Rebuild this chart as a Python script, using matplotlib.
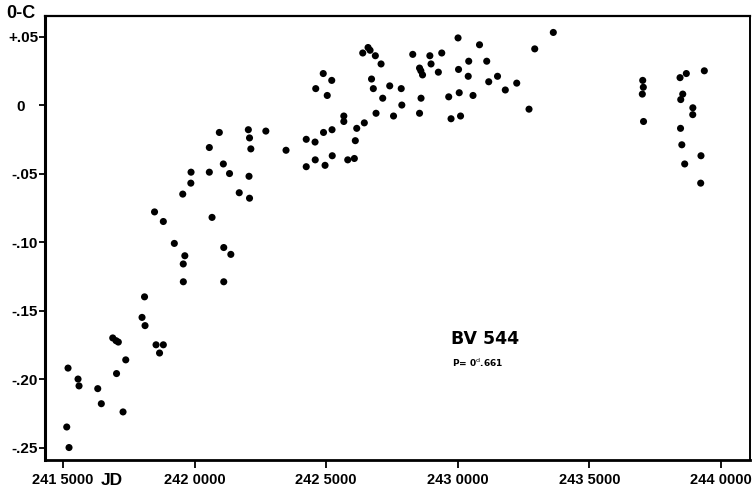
import numpy as np
import matplotlib
matplotlib.use("Agg")
import matplotlib.pyplot as plt
from matplotlib.transforms import ScaledTranslation

# ---- data : JD - 2400000 and O-C (days) ----
jd = np.array([
    15141, 15228, 15190, 15570, 15608, 16319, 16455, 16889, 17014, 17101,
    17033, 17280, 17383, 18002, 18097, 18116, 18534, 18667, 18811, 18477,
    18811, 19229, 19568, 19628, 19571, 19549, 19856, 19864, 20559, 20559,
    20662, 20939, 21091, 21107, 21376, 21107, 21326, 21695, 22086, 22067,
    22041, 22086, 22136, 22706, 23473, 24241, 24576, 24898, 25221, 24241,
    24583, 24956, 25229, 25818, 26069, 24602, 24887, 25210, 25039, 25669,
    25669, 26160, 26106, 26448, 26893, 26388, 26590, 26666, 26867, 27084,
    26722, 26790, 27147, 27413, 27850, 27873, 27558, 28288, 28546, 28596,
    28660, 28938, 28983, 29390, 29261, 28603, 28546, 29655, 29743, 30009,
    30028, 30415, 30396, 30054, 30104, 30578, 30825, 31099, 31175, 31509,
    31805, 32239, 32706, 32923, 33629, 37026, 37049, 37011, 37057, 38444,
    38683, 39367, 38547, 38471, 38931, 38927, 38463, 38512, 39240, 38621,
    39229,
])
oc = np.array([
    -0.235, -0.250, -0.192, -0.200, -0.205, -0.207, -0.218, -0.170, -0.172, -0.173,
    -0.196, -0.224, -0.186, -0.155, -0.140, -0.161, -0.175, -0.181, -0.175, -0.078,
    -0.085, -0.101, -0.116, -0.110, -0.129, -0.065, -0.057, -0.049, -0.031, -0.049,
    -0.082, -0.020, -0.043, -0.104, -0.109, -0.129, -0.050, -0.064, -0.068, -0.052,
    -0.018, -0.024, -0.032, -0.019, -0.033, -0.025, -0.027, -0.020, -0.018, -0.045,
    -0.040, -0.044, -0.037, -0.040, -0.039, 0.012, 0.023, 0.018, 0.007, -0.008,
    -0.012, -0.017, -0.026, -0.013, -0.006, 0.038, 0.042, 0.040, 0.036, 0.030,
    0.019, 0.012, 0.005, 0.014, 0.012, 0.000, -0.008, 0.037, 0.027, 0.025,
    0.022, 0.036, 0.030, 0.038, 0.024, 0.005, -0.006, 0.006, -0.010, 0.049,
    0.026, 0.032, 0.021, 0.009, -0.008, 0.007, 0.044, 0.032, 0.017, 0.021,
    0.011, 0.016, -0.003, 0.041, 0.053, 0.018, 0.013, 0.008, -0.012, 0.020,
    0.023, 0.025, 0.008, 0.004, -0.002, -0.007, -0.017, -0.029, -0.037, -0.043,
    -0.057,
])

xticks = [15000, 20000, 25000, 30000, 35000, 40000]
xtick_labels = ["241 5000", "242 0000", "242 5000", "243 0000", "243 5000", "244 0000"]
yticks = [0.05, 0.0, -0.05, -0.10, -0.15, -0.20, -0.25]
ytick_labels = ["+.05", "0", "-.05", "-.10", "-.15", "-.20", "-.25"]

fig = plt.figure(figsize=(7.53, 4.94), dpi=100)
ax = fig.add_axes([0.0598, 0.0688, 0.9362, 0.8988])

ax.scatter(jd, oc, s=26, c="black", edgecolors="none", zorder=3)

ax.set_xlim(14316, 41102)
ax.set_ylim(-0.2591, 0.065)

ax.set_xticks(xticks)
ax.set_xticklabels(xtick_labels, fontfamily="Liberation Sans", fontweight="bold", fontsize=10.5)
ax.set_yticks(yticks)
ax.set_yticklabels(ytick_labels, fontfamily="Liberation Sans", fontweight="bold", fontsize=11)
ax.tick_params(axis="x", direction="out", length=6, width=1.3, pad=3)
ax.tick_params(axis="y", direction="out", length=4, width=1.3, pad=1)

# frame : thick left/bottom, thinner top/right
ax.spines["left"].set_linewidth(2.2)
ax.spines["bottom"].set_linewidth(2.0)
ax.spines["top"].set_linewidth(1.6)
ax.spines["right"].set_linewidth(1.4)

# "0" label sits further left than the others
for lab in ax.get_yticklabels():
    if lab.get_text() == "0":
        lab.set_transform(lab.get_transform() + ScaledTranslation(-13 / 100, 0, fig.dpi_scale_trans))

# axis names
fig.text(6 / 753, 1 - 13 / 494, "0-C", fontfamily="Liberation Sans", fontweight="bold",
         fontsize=13, ha="left", va="center")
fig.text(112 / 753, 1 - 480 / 494, "JD", fontfamily="Liberation Sans", fontweight="bold",
         fontsize=12.5, ha="center", va="center")

# star name and period
fig.text(451 / 753, 1 - 339 / 494, "BV 544", fontfamily="DejaVu Sans", fontweight="bold",
         fontsize=12.5, ha="left", va="center")
fig.text(452 / 753, 1 - 363 / 494, r"P= 0$^{\mathrm{d}}$.661", fontfamily="DejaVu Sans",
         fontweight="bold", fontsize=6.5, ha="left", va="center")

fig.savefig("out.png", dpi=100)
